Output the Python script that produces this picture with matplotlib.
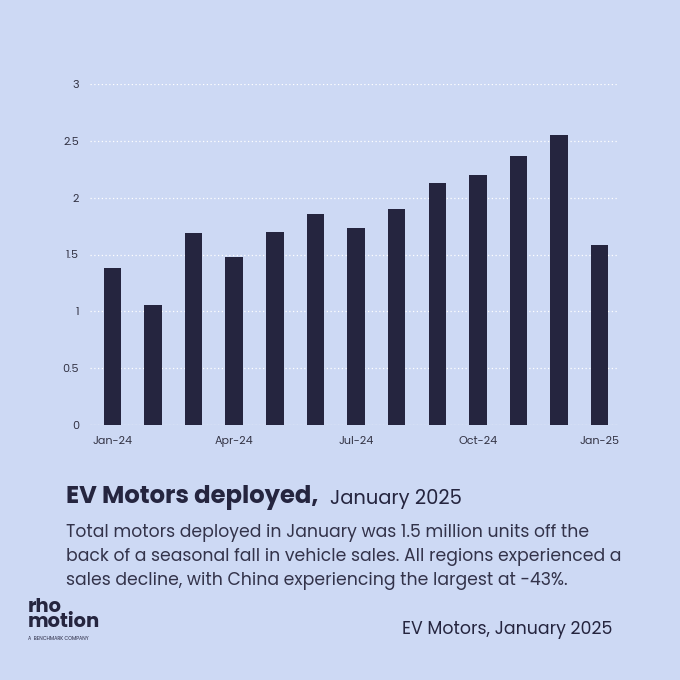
import matplotlib
matplotlib.use("Agg")
import matplotlib.pyplot as plt

MONTHS = ["Jan-24", "Feb-24", "Mar-24", "Apr-24", "May-24", "Jun-24", "Jul-24",
          "Aug-24", "Sep-24", "Oct-24", "Nov-24", "Dec-24", "Jan-25"]
MOTORS = [1.38, 1.055, 1.69, 1.48, 1.70, 1.86, 1.73, 1.90, 2.13, 2.20, 2.37, 2.55, 1.58]
YTICKS = [0, 0.5, 1, 1.5, 2, 2.5, 3]
YLABELS = ["0", "0.5", "1", "1.5", "2", "2.5", "3"]

BG = "#cdd9f4"
BAR = "#25253f"
plt.rcParams["font.family"] = ["Poppins", "Lato", "DejaVu Sans"]

fig = plt.figure(figsize=(6.8, 6.8), dpi=100, facecolor=BG)
ax = fig.add_axes([90 / 680, 1 - 425 / 680, 528 / 680, 341 / 680], facecolor=BG)

x = list(range(len(MONTHS)))
ax.bar(x, MOTORS, width=0.43, color=BAR, zorder=3)
ax.set_xlim(-0.55, len(MONTHS) - 0.55)
ax.set_ylim(0, 3)
ax.set_yticks(YTICKS)
ax.set_yticklabels(YLABELS, fontsize=8, color="#333344")
ax.set_xticks(x[::3])
ax.set_xticklabels(MONTHS[::3], fontsize=8, color="#333344")
ax.tick_params(length=0, pad=8)
ax.grid(axis="y", color="white", linestyle=(0, (1, 2)), linewidth=0.9, zorder=0)
for s in ax.spines.values():
    s.set_visible(False)
ax.axhline(0, color="white", linewidth=0.8, zorder=2)

fig.text(66 / 680, 1 - 498 / 680, "EV Motors deployed,", fontsize=17.5, fontweight="bold",
         color="#25253f", va="center")
fig.text(330 / 680, 1 - 499 / 680, "January 2025", fontsize=14, color="#25253f", va="center")
body = ("Total motors deployed in January was 1.5 million units off the\n"
        "back of a seasonal fall in vehicle sales. All regions experienced a\n"
        "sales decline, with China experiencing the largest at -43%.")
fig.text(66 / 680, 1 - 557 / 680, body, fontsize=12.4, color="#33334a", va="center",
         linespacing=1.45)
fig.text(28 / 680, 1 - 615 / 680, "rho\nmotion", fontsize=14, fontweight="bold",
         color="#25253f", va="center", linespacing=0.75)
fig.text(28 / 680, 1 - 638 / 680, "A  BENCHMARK COMPANY", fontsize=3.5, color="#25253f",
         va="center")
fig.text(612 / 680, 1 - 630 / 680, "EV Motors, January 2025", fontsize=12.5,
         color="#25253f", va="center", ha="right")

fig.savefig("out.png", dpi=100, facecolor=BG)
